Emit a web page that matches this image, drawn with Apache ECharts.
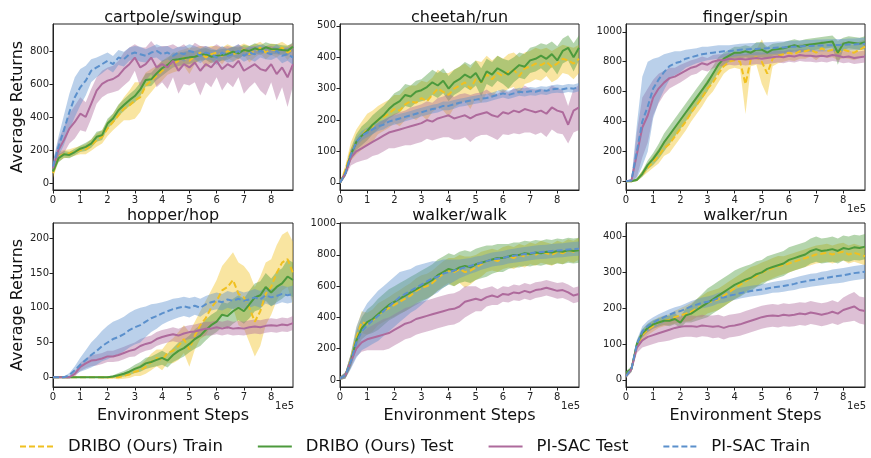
<!DOCTYPE html>
<html><head><meta charset="utf-8">
<script src="https://cdn.jsdelivr.net/npm/echarts@6/dist/echarts.min.js"></script>
<style>html,body{margin:0;padding:0;background:#fff}#c{width:871px;height:458px}</style>
</head><body><div id="c"></div>
<script>
// ---------------- DATA ----------------
const STEPS = [0,0.2,0.4,0.6,0.8,1.0,1.2,1.4,1.6,1.8,2.0,2.2,2.4,2.6,2.8,3.0,3.2,3.4,3.6,3.8,4.0,4.2,4.4,4.6,4.8,5.0,5.2,5.4,5.6,5.8,6.0,6.2,6.4,6.6,6.8,7.0,7.2,7.4,7.6,7.8,8.0,8.2,8.4,8.6,8.8]; // x 1e5
const X_TICKS = [0,1,2,3,4,5,6,7,8];
const METHODS = ['DRIBO (Ours) Train','DRIBO (Ours) Test','PI-SAC Test','PI-SAC Train'];
const TASKS = ['cartpole/swingup','cheetah/run','finger/spin','hopper/hop','walker/walk','walker/run'];
const Y_TICKS_CARTPOLE = [0,200,400,600,800];
const Y_TICKS_CHEETAH = [0,100,200,300,400,500];
const Y_TICKS_FINGER = [0,200,400,600,800,1000];
const Y_TICKS_HOPPER = [0,50,100,150,200];
const Y_TICKS_WALK = [0,200,400,600,800,1000];
const Y_TICKS_RUN = [0,100,200,300,400];

// cartpole/swingup
const cp_dribo_train = [60,160,175,180,190,200,205,230,260,280,330,370,410,450,470,500,520,590,620,650,680,710,720,740,760,740,770,790,760,780,790,770,800,780,790,810,780,800,820,790,810,800,820,790,810];
const cp_dribo_train_sd = [30,30,25,25,25,25,30,35,40,40,45,50,60,70,90,110,90,80,70,60,60,55,50,60,50,80,50,40,60,50,40,50,40,45,40,35,50,40,35,40,35,40,35,45,30];
const cp_dribo_test = [70,150,174,170,188,208,219,239,280,290,360,391,441,472,502,527,567,624,628,664,695,715,745,749,755,761,765,776,782,765,770,776,780,796,785,806,800,816,805,822,812,810,805,802,826];
const cp_dribo_test_sd = [20,25,20,20,20,20,25,25,30,30,30,30,35,35,35,40,40,40,40,40,45,40,45,40,40,40,35,35,35,40,35,35,35,30,35,30,30,30,30,30,30,30,30,30,25];
const cp_pisac_test = [90,200,260,330,370,420,400,480,560,600,620,630,650,690,720,760,700,720,760,700,720,700,740,680,720,700,730,680,720,700,740,690,720,700,740,680,700,720,690,680,720,660,700,640,720];
const cp_pisac_test_sd = [40,60,80,90,100,100,90,90,80,80,80,80,90,100,100,80,120,100,100,120,110,130,100,140,120,110,120,150,110,120,100,130,110,120,100,140,120,110,130,150,110,160,120,180,130];
const cp_pisac_train = [100,220,320,430,520,580,620,680,700,720,740,720,760,750,780,790,780,770,790,800,780,790,770,790,780,800,790,770,790,780,760,790,770,780,800,770,790,780,800,790,780,800,770,780,760];
const cp_pisac_train_sd = [30,60,90,110,120,110,90,70,60,55,50,50,45,45,40,40,45,40,35,40,45,40,40,35,45,40,40,45,40,35,45,40,40,45,40,35,40,45,40,40,35,40,45,40,45];

// cheetah/run
const ch_dribo_train = [0,40,100,130,150,170,180,200,210,220,235,230,250,260,255,270,260,280,300,290,280,300,310,320,300,330,320,345,330,350,340,355,360,340,365,370,380,375,385,370,380,395,390,380,395];
const ch_dribo_train_sd = [5,15,30,40,45,50,50,45,45,45,45,50,50,50,55,55,60,55,60,60,70,60,60,60,65,60,65,60,60,55,55,55,55,60,50,50,50,50,45,50,50,45,45,50,45];
const ch_dribo_test = [0,30,90,130,150,165,185,200,215,235,250,260,280,275,290,295,305,320,310,325,300,320,330,345,335,350,320,355,345,365,355,345,360,375,370,390,395,405,395,410,390,420,430,400,430];
const ch_dribo_test_sd = [5,10,20,25,30,30,30,30,30,30,35,35,35,35,35,35,40,40,40,40,40,40,40,40,40,40,45,40,40,40,40,45,40,40,40,40,40,40,45,40,45,40,40,45,40];
const ch_pisac_test = [0,30,80,100,110,120,130,140,150,160,165,170,175,180,185,190,200,195,205,210,215,205,210,215,205,215,220,225,215,210,225,220,230,225,235,230,225,230,220,240,230,225,185,230,240];
const ch_pisac_test_sd = [5,10,25,35,40,45,45,50,50,50,55,55,55,60,60,60,60,60,65,65,70,68,72,70,75,70,68,72,70,74,70,68,72,70,75,70,72,70,74,70,72,70,60,70,72];
const ch_pisac_train = [0,30,90,130,150,160,170,180,185,195,200,205,210,215,220,225,230,235,238,245,245,250,255,258,262,265,268,270,275,280,285,280,285,290,288,292,290,295,293,298,300,298,302,300,305];
const ch_pisac_train_sd = [3,8,15,15,15,15,15,15,15,15,15,15,14,14,14,14,14,14,14,14,14,14,13,13,13,13,13,13,13,13,13,13,13,13,13,13,13,13,13,13,13,13,13,13,13];

// finger/spin
const fs_dribo_train = [0,0,10,50,90,130,170,220,250,300,350,400,460,510,560,620,660,720,770,800,810,800,650,820,830,800,720,820,840,850,860,850,870,870,880,860,890,870,880,860,880,870,860,880,900];
const fs_dribo_train_sd = [2,3,10,20,30,40,50,50,60,60,60,60,60,60,60,60,60,60,50,50,50,50,200,50,50,150,150,50,50,50,50,45,50,50,45,50,50,45,50,50,55,50,50,55,50];
const fs_dribo_test = [0,0,10,50,110,150,200,260,310,360,410,460,510,560,610,660,720,780,820,840,860,860,870,860,880,880,860,880,885,890,900,910,900,910,915,920,925,930,935,860,920,930,925,920,930];
const fs_dribo_test_sd = [2,3,10,20,30,40,50,60,60,60,60,60,60,60,60,60,50,50,40,40,40,40,40,40,50,50,40,40,40,40,40,40,40,40,40,40,40,40,40,80,40,40,40,40,40];
const fs_pisac_test = [0,5,180,360,440,560,620,660,690,700,720,740,760,770,790,780,800,810,810,820,815,820,815,820,825,820,825,830,835,830,840,835,845,840,840,835,840,835,845,840,830,835,825,830,835];
const fs_pisac_test_sd = [2,10,150,200,180,120,100,80,70,60,60,55,50,50,45,45,45,40,40,40,40,40,40,40,40,40,40,40,40,40,40,40,40,40,40,40,40,40,40,40,40,40,40,40,40];
const fs_pisac_train = [0,5,200,400,500,620,680,730,770,790,800,820,830,840,850,855,860,865,870,870,875,880,882,885,885,888,890,892,895,895,900,900,902,905,905,908,908,910,910,912,912,915,915,918,920];
const fs_pisac_train_sd = [2,10,180,300,300,200,150,120,90,80,70,60,55,50,50,45,45,45,40,40,40,40,40,40,40,40,40,40,40,40,40,40,40,40,40,40,40,40,40,40,40,40,40,40,40];

// hopper/hop
const hh_dribo_train = [0,0,0,0,0,0,0,0,0,0,0,0,0,2,4,8,10,15,22,28,25,35,38,45,55,40,60,75,85,100,110,125,130,140,120,115,100,80,95,120,130,150,165,170,150];
const hh_dribo_train_sd = [1,1,1,1,1,1,1,1,1,2,2,2,3,4,5,6,8,10,12,12,15,15,18,20,20,25,20,20,25,25,30,35,40,40,45,45,50,50,50,45,40,40,40,40,45];
const hh_dribo_test = [0,0,0,0,0,0,0,0,0,0,0,1,3,5,8,12,15,20,22,25,28,24,32,38,42,48,55,60,68,75,80,90,88,95,100,95,105,115,118,130,122,130,135,145,140];
const hh_dribo_test_sd = [1,1,1,1,1,1,1,1,1,1,1,2,3,4,5,6,7,8,8,9,10,10,10,12,12,12,14,15,15,15,15,18,18,18,18,18,20,20,20,20,20,22,22,25,25];
const hh_pisac_test = [0,0,0,0,5,15,20,24,25,27,30,30,32,35,38,40,45,48,50,55,58,60,62,60,63,65,66,68,70,70,72,70,72,70,71,70,72,73,72,74,75,74,76,75,78];
const hh_pisac_test_sd = [1,1,1,2,4,6,7,8,8,8,8,8,9,9,9,10,10,10,10,10,10,10,10,10,10,10,10,10,10,10,10,10,10,10,10,10,10,10,10,10,10,10,10,10,10];
const hh_pisac_train = [0,0,0,3,10,18,25,32,38,45,50,55,58,62,68,72,75,80,85,88,92,95,98,100,102,100,103,100,105,108,110,108,112,110,113,110,112,115,112,118,115,117,120,118,120];
const hh_pisac_train_sd = [1,1,1,3,6,10,14,18,20,22,24,25,25,25,25,25,25,22,20,18,16,15,15,14,14,14,13,13,12,12,12,12,12,12,12,12,12,12,12,12,12,12,12,12,12];

// walker/walk
const ww_dribo_train = [10,30,130,270,370,360,380,420,440,460,480,500,520,540,570,590,600,620,650,680,700,690,710,690,700,720,740,760,770,760,780,790,780,800,790,810,800,820,810,800,820,810,830,820,840];
const ww_dribo_train_sd = [10,20,40,60,70,70,70,70,70,70,75,75,80,80,80,80,80,80,80,80,80,90,90,100,90,80,80,70,70,70,70,70,70,70,70,70,70,70,70,70,70,70,70,70,70];
const ww_dribo_test = [10,30,120,250,330,370,390,420,450,480,500,520,540,560,580,600,620,640,670,690,710,700,720,730,720,740,750,760,770,780,780,790,800,800,810,805,815,810,820,815,825,820,830,825,830];
const ww_dribo_test_sd = [10,20,40,60,70,80,90,100,100,100,100,100,100,100,100,100,100,100,100,100,100,100,100,100,100,100,100,100,90,90,90,80,80,80,80,80,80,80,80,80,80,80,80,80,80];
const ww_pisac_test = [10,30,120,200,240,260,270,280,290,300,320,340,360,370,390,400,410,420,430,440,450,455,470,500,510,520,510,530,540,530,550,545,560,555,570,560,575,580,590,580,570,575,560,540,550];
const ww_pisac_test_sd = [10,20,40,50,60,70,80,90,100,100,100,100,100,100,100,100,100,100,100,100,100,100,100,100,90,80,70,60,60,50,50,50,50,50,50,50,50,50,50,50,50,50,50,50,50];
const ww_pisac_train = [10,30,120,240,310,350,380,410,440,470,500,530,550,570,590,610,630,650,660,680,690,700,710,720,730,740,750,760,770,775,780,790,795,800,805,810,815,818,820,825,828,830,835,838,840];
const ww_pisac_train_sd = [10,20,50,100,120,140,150,160,160,160,160,160,150,140,140,130,120,110,100,90,80,70,60,55,50,50,45,45,45,45,45,45,45,45,45,45,45,45,45,45,45,45,45,45,45];

// walker/run
const wr_dribo_train = [10,30,95,125,140,150,160,165,168,175,180,185,190,200,205,215,220,225,235,245,255,265,275,285,290,300,305,312,318,320,325,330,335,340,345,350,352,355,350,355,358,350,355,350,345];
const wr_dribo_train_sd = [5,8,10,15,15,15,15,15,15,18,20,22,25,25,30,30,30,30,30,30,30,30,30,30,30,28,28,28,28,25,25,25,25,25,25,25,25,25,25,25,25,25,25,25,25];
const wr_dribo_test = [20,30,100,130,145,155,160,165,165,170,160,180,185,195,205,215,225,235,245,255,265,272,280,285,295,300,310,315,320,325,335,340,345,350,360,365,360,362,365,360,368,365,370,368,372];
const wr_dribo_test_sd = [5,8,10,12,12,12,12,12,15,15,15,20,25,30,35,40,40,40,40,40,40,40,38,38,36,35,35,35,35,35,35,35,35,35,35,35,35,35,35,35,35,35,35,35,35];
const wr_pisac_test = [10,30,90,110,120,125,130,135,140,145,148,150,150,148,152,150,148,150,145,150,152,155,160,165,170,175,178,180,178,182,180,182,185,183,188,185,182,185,190,185,195,200,205,195,192];
const wr_pisac_test_sd = [5,8,15,20,25,25,25,28,30,30,30,30,30,30,30,30,32,32,32,32,32,32,32,32,32,32,32,32,32,32,32,32,32,32,32,32,32,32,32,32,35,38,40,38,38];
const wr_pisac_train = [10,30,100,135,150,160,168,175,182,188,192,198,205,210,215,218,222,228,230,235,238,242,245,248,250,252,255,258,260,262,265,268,272,275,278,280,283,285,288,290,292,295,298,300,302];
const wr_pisac_train_sd = [5,8,12,15,15,15,15,15,15,15,15,15,15,15,15,15,15,15,15,15,15,15,15,15,15,15,15,15,16,16,16,17,17,18,18,18,19,19,20,20,20,20,20,20,20];

// ---------------- LAYOUT / STYLE ----------------
const FONT = 'DejaVu Sans';
const COLORS = ['#F0C020','#4C9A3C','#AE6A9C','#5B90CC'];
const DASHED = [true,false,false,true];
const PANELS = [
  {means:[cp_dribo_train,cp_dribo_test,cp_pisac_test,cp_pisac_train], sds:[cp_dribo_train_sd,cp_dribo_test_sd,cp_pisac_test_sd,cp_pisac_train_sd], ticks:Y_TICKS_CARTPOLE, min:-42, max:963},
  {means:[ch_dribo_train,ch_dribo_test,ch_pisac_test,ch_pisac_train], sds:[ch_dribo_train_sd,ch_dribo_test_sd,ch_pisac_test_sd,ch_pisac_train_sd], ticks:Y_TICKS_CHEETAH, min:-23, max:506},
  {means:[fs_dribo_train,fs_dribo_test,fs_pisac_test,fs_pisac_train], sds:[fs_dribo_train_sd,fs_dribo_test_sd,fs_pisac_test_sd,fs_pisac_train_sd], ticks:Y_TICKS_FINGER, min:-58, max:1052},
  {means:[hh_dribo_train,hh_dribo_test,hh_pisac_test,hh_pisac_train], sds:[hh_dribo_train_sd,hh_dribo_test_sd,hh_pisac_test_sd,hh_pisac_train_sd], ticks:Y_TICKS_HOPPER, min:-14, max:222},
  {means:[ww_dribo_train,ww_dribo_test,ww_pisac_test,ww_pisac_train], sds:[ww_dribo_train_sd,ww_dribo_test_sd,ww_pisac_test_sd,ww_pisac_train_sd], ticks:Y_TICKS_WALK, min:-45, max:1004},
  {means:[wr_dribo_train,wr_dribo_test,wr_pisac_test,wr_pisac_train], sds:[wr_dribo_train_sd,wr_dribo_test_sd,wr_pisac_test_sd,wr_pisac_train_sd], ticks:Y_TICKS_RUN, min:-20, max:438}
];
const GRID_LEFT = [53,340,626];
const GRID_W = [240,239,239];
const GRID_TOP = [24,223];
const GRID_H = [166,164];

const grids=[], xAxes=[], yAxes=[], titles=[], series=[], graphics=[];
PANELS.forEach((P,p)=>{
  const col=p%3, row=Math.floor(p/3);
  const L=GRID_LEFT[col], T=GRID_TOP[row], W=GRID_W[col], H=GRID_H[row];
  grids.push({left:L, top:T, width:W, height:H, show:true, borderColor:'#222', borderWidth:1, backgroundColor:'#fff'});
  titles.push({text:TASKS[p], left:L+W/2, top:row===0?10:208, textAlign:'center', padding:0,
    textStyle:{fontFamily:FONT, fontSize:16, fontWeight:'normal', color:'#111'}});
  xAxes.push({gridIndex:p, type:'value', min:0, max:8.8,
    axisLine:{onZero:false, lineStyle:{color:'#222', width:1}},
    axisTick:{show:true, length:3.5, customValues:X_TICKS, lineStyle:{color:'#222'}},
    axisLabel:{customValues:X_TICKS, margin:5, fontSize:10, color:'#222', fontFamily:FONT, formatter:v=>String(v)},
    splitLine:{show:false},
    name: row===1 ? 'Environment Steps' : '', nameLocation:'middle', nameGap:21,
    nameTextStyle:{fontSize:16, color:'#111', fontFamily:FONT}});
  yAxes.push({gridIndex:p, type:'value', min:P.min, max:P.max,
    axisLine:{onZero:false, lineStyle:{color:'#222', width:1}},
    axisTick:{show:true, length:3.5, customValues:P.ticks, lineStyle:{color:'#222'}},
    axisLabel:{customValues:P.ticks, margin:4, fontSize:10, color:'#222', fontFamily:FONT, formatter:v=>String(v)},
    splitLine:{show:false},
    name: col===0 ? 'Average Returns' : '', nameLocation:'middle', nameGap:25,
    nameTextStyle:{fontSize:16, color:'#111', fontFamily:FONT}});
  if (p>=2) graphics.push({type:'text', x:L+W+1, y:T+H+19,
    style:{text:'1e5', font:'10px "DejaVu Sans"', fill:'#222', textAlign:'right', textVerticalAlign:'middle'}});
  for (let m=0;m<4;m++){
    const mean=P.means[m], sd=P.sds[m], color=COLORS[m];
    series.push({type:'custom', xAxisIndex:p, yAxisIndex:p, silent:true, clip:true, z:1,
      data:[[STEPS[0], mean[0]]],
      renderItem:(params, api)=>{
        const pts=[];
        for (let i=0;i<STEPS.length;i++) pts.push(api.coord([STEPS[i], mean[i]+sd[i]]));
        for (let i=STEPS.length-1;i>=0;i--) pts.push(api.coord([STEPS[i], mean[i]-sd[i]]));
        return {type:'polygon', shape:{points:pts}, style:{fill:color, opacity:0.42}};
      }});
  }
  for (let m=0;m<4;m++){
    const mean=P.means[m];
    series.push({type:'line', name:METHODS[m], xAxisIndex:p, yAxisIndex:p, z:3,
      data:STEPS.map((x,i)=>[x, mean[i]]), symbol:'none', showSymbol:false, clip:true,
      lineStyle:{color:COLORS[m], width:2, type:DASHED[m]?[6,3]:'solid'}, itemStyle:{color:COLORS[m]}});
  }
});

const chart = echarts.init(document.getElementById('c'), null, {renderer:'canvas'});
chart.setOption({
  animation:false,
  backgroundColor:'#fff',
  title:titles,
  grid:grids, xAxis:xAxes, yAxis:yAxes, series:series,
  graphic:graphics,
  legend:{data:METHODS, left:19, top:438, padding:0, itemWidth:34, itemHeight:14, itemGap:34,
    itemStyle:{opacity:0, borderWidth:0},
    textStyle:{fontFamily:FONT, fontSize:16.5, color:'#111', padding:[0,0,0,9]}}
});
</script></body></html>
